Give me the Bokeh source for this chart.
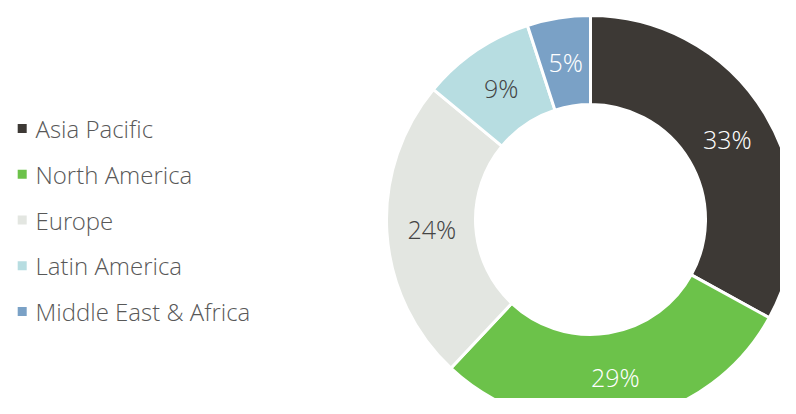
import numpy as np
from bokeh.plotting import figure
from bokeh.models import Range1d, ColumnDataSource
from bokeh.core.properties import value
from bokeh.embed import file_html
from bokeh.resources import INLINE

regions = ["Asia Pacific", "North America", "Europe", "Latin America", "Middle East & Africa"]
shares = [33, 29, 24, 9, 5]
colors = ["#3d3935", "#6cc24a", "#e3e6e1", "#b7dde1", "#7aa1c6"]
label_colors = ["#ffffff", "#ffffff", "#444444", "#444444", "#ffffff"]

FONT = value("'Open Sans Light', 'Lato Light', 'Open Sans'")

W, H = 780, 398
p = figure(width=W, height=H, output_backend="svg", toolbar_location=None,
           x_range=Range1d(0, W), y_range=Range1d(0, H),
           min_border=0, background_fill_color="white", border_fill_color="white")
p.axis.visible = False
p.grid.visible = False
p.outline_line_color = None

cx, cy = 590, H - 219
r_in, r_out = 115, 204

vals = np.array(shares, dtype=float)
frac = vals / vals.sum()
cum_end = np.cumsum(frac)
cum_start = cum_end - frac
start = np.pi / 2 - 2 * np.pi * cum_end
end = np.pi / 2 - 2 * np.pi * cum_start
mid = (start + end) / 2
r_lab = 159

src = ColumnDataSource(dict(
    start=start, end=end, color=colors,
    lx=cx + r_lab * np.cos(mid), ly=cy + r_lab * np.sin(mid),
    lab=[f"{v}%" for v in shares], lcol=label_colors,
))
p.annular_wedge(x=cx, y=cy, inner_radius=r_in, outer_radius=r_out,
                start_angle="start", end_angle="end", color="color",
                line_color="white", line_width=3, source=src)
p.text(x="lx", y="ly", text="lab", text_color="lcol", text_font=FONT,
       text_font_size="25px", text_align="center", text_baseline="middle", source=src)

leg_y = H - (128 + 45.75 * np.arange(len(regions)))
leg = ColumnDataSource(dict(y=leg_y, color=colors, name=regions))
p.scatter(x=21.7, y="y", marker="square", size=9, color="color", line_color=None, source=leg)
p.text(x=35, y="y", text="name", text_color="#585858", text_font=FONT,
       text_font_size="24px", text_align="left", text_baseline="middle", source=leg)

open("out.html", "w").write(file_html(p, INLINE))
